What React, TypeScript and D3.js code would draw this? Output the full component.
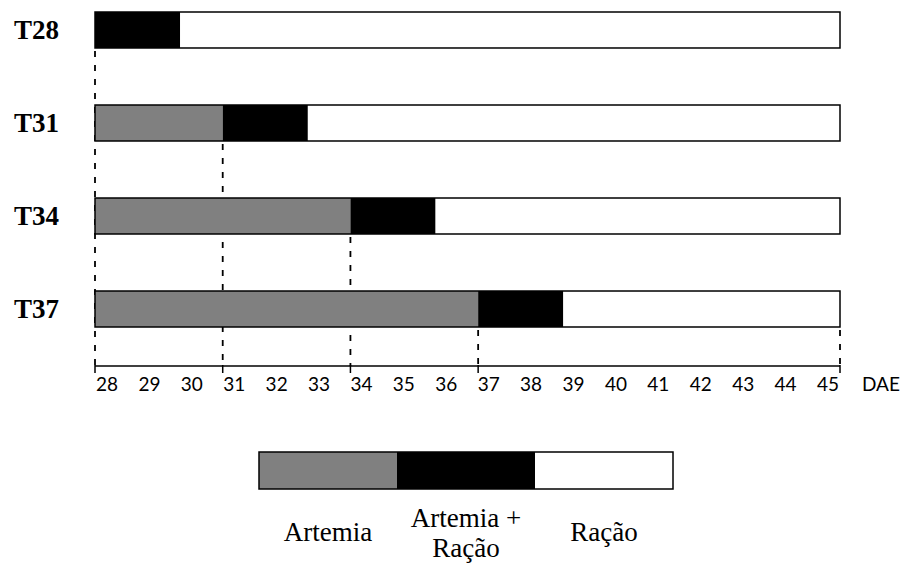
import * as d3 from "d3";
import React, { useEffect, useRef } from "react";

// treatments and their feeding phases (days after hatching, DAE)
const treatments = ["T28", "T31", "T34", "T37"];
const artemiaEnd = [28, 31, 34, 37];
const mixEnd = [30, 33, 36, 39];
const scheduleStart = 28;
const scheduleEnd = 45.5;
const dayLabels = d3.range(28, 46).map(String);
const legendItems = ["Artemia", "Artemia +\nRação", "Ração"];
const phaseColors = ["#808080", "#000000", "#ffffff"];

const W = 912;
const H = 566;

function draw(svgEl: SVGSVGElement) {
  const svg = d3.select(svgEl);
  svg.selectAll("*").remove();

  const x = d3.scaleLinear().domain([scheduleStart, scheduleEnd]).range([95, 840]);
  const xLab = d3.scalePoint().domain(dayLabels).range([107, 828]);
  const y = d3.scaleBand().domain(treatments).range([12, 327]).paddingInner(0.613).paddingOuter(0);
  const axisY = 366;

  // dashed guides (behind bars)
  const guides = treatments.map((t, i) => ({ day: artemiaEnd[i], top: y(t) + y.bandwidth() }));
  guides.push({ day: scheduleEnd, top: y(treatments[treatments.length - 1]) + y.bandwidth() });
  svg.append("g")
    .selectAll("line")
    .data(guides)
    .join("line")
    .attr("x1", (d) => x(d.day))
    .attr("x2", (d) => x(d.day))
    .attr("y1", (d) => d.top + 3)
    .attr("y2", axisY)
    .attr("stroke", "#000")
    .attr("stroke-width", 1.8)
    .attr("stroke-dasharray", "6,8");

  // bars
  const rows = svg.append("g")
    .selectAll("g")
    .data(treatments)
    .join("g")
    .attr("transform", (t) => `translate(0,${y(t)})`);

  rows.each(function (t, i) {
    const g = d3.select(this);
    const segs = [
      [scheduleStart, artemiaEnd[i], phaseColors[0]],
      [artemiaEnd[i], mixEnd[i], phaseColors[1]],
      [mixEnd[i], scheduleEnd, phaseColors[2]],
    ].filter((s) => s[1] > s[0]);
    g.selectAll("rect.seg")
      .data(segs)
      .join("rect")
      .attr("class", "seg")
      .attr("x", (s) => x(s[0]))
      .attr("width", (s) => x(s[1]) - x(s[0]))
      .attr("height", y.bandwidth())
      .attr("fill", (s) => s[2]);
    g.append("rect")
      .attr("x", x(scheduleStart))
      .attr("width", x(scheduleEnd) - x(scheduleStart))
      .attr("height", y.bandwidth())
      .attr("fill", "none")
      .attr("stroke", "#000")
      .attr("stroke-width", 1.5);
    g.append("text")
      .attr("x", 14)
      .attr("y", y.bandwidth() / 2 + 9)
      .attr("font-family", "'Liberation Serif', 'Times New Roman', serif")
      .attr("font-weight", "bold")
      .attr("font-size", 27)
      .attr("fill", "#000")
      .text(t);
  });

  // axis
  svg.append("line")
    .attr("x1", x(scheduleStart))
    .attr("x2", x(scheduleEnd))
    .attr("y1", axisY)
    .attr("y2", axisY)
    .attr("stroke", "#000")
    .attr("stroke-width", 1.5);
  svg.append("g")
    .selectAll("line")
    .data(guides)
    .join("line")
    .attr("x1", (d) => x(d.day))
    .attr("x2", (d) => x(d.day))
    .attr("y1", axisY - 1)
    .attr("y2", axisY + 7)
    .attr("stroke", "#000")
    .attr("stroke-width", 1.5);
  svg.append("g")
    .selectAll("text")
    .data(dayLabels)
    .join("text")
    .attr("x", (d) => xLab(d))
    .attr("y", 391)
    .attr("text-anchor", "middle")
    .attr("font-family", "Lato, 'Noto Sans', sans-serif")
    .attr("font-size", 19)
    .attr("fill", "#000")
    .text((d) => d);
  svg.append("text")
    .attr("x", 862)
    .attr("y", 391)
    .attr("font-family", "Lato, 'Noto Sans', sans-serif")
    .attr("font-size", 19)
    .attr("fill", "#000")
    .text("DAE");

  // legend
  const lx = d3.scaleBand().domain(legendItems).range([259, 673]);
  const leg = svg.append("g");
  leg.selectAll("rect")
    .data(legendItems)
    .join("rect")
    .attr("x", (d) => lx(d))
    .attr("y", 452)
    .attr("width", lx.bandwidth())
    .attr("height", 37)
    .attr("fill", (d, i) => phaseColors[i]);
  leg.append("rect")
    .attr("x", 259)
    .attr("y", 452)
    .attr("width", 414)
    .attr("height", 37)
    .attr("fill", "none")
    .attr("stroke", "#000")
    .attr("stroke-width", 1.5);
  leg.selectAll("text")
    .data(legendItems)
    .join("text")
    .attr("x", (d) => lx(d) + lx.bandwidth() / 2)
    .attr("y", (d) => (d.includes("\n") ? 527 : 541))
    .attr("text-anchor", "middle")
    .attr("font-family", "'Liberation Serif', 'Times New Roman', serif")
    .attr("font-size", 27)
    .attr("fill", "#000")
    .each(function (d) {
      const lines = d.split("\n");
      d3.select(this)
        .selectAll("tspan")
        .data(lines)
        .join("tspan")
        .attr("x", lx(d) + lx.bandwidth() / 2)
        .attr("dy", (l, k) => (k === 0 ? 0 : 30))
        .text((l) => l);
    });
}

export default function App() {
  const ref = useRef<SVGSVGElement | null>(null);
  useEffect(() => {
    if (ref.current) draw(ref.current);
  }, []);
  return (
    <svg
      ref={ref}
      width={W}
      height={H}
      style={{ position: "absolute", left: 0, top: 0, background: "#fff" }}
    />
  );
}
